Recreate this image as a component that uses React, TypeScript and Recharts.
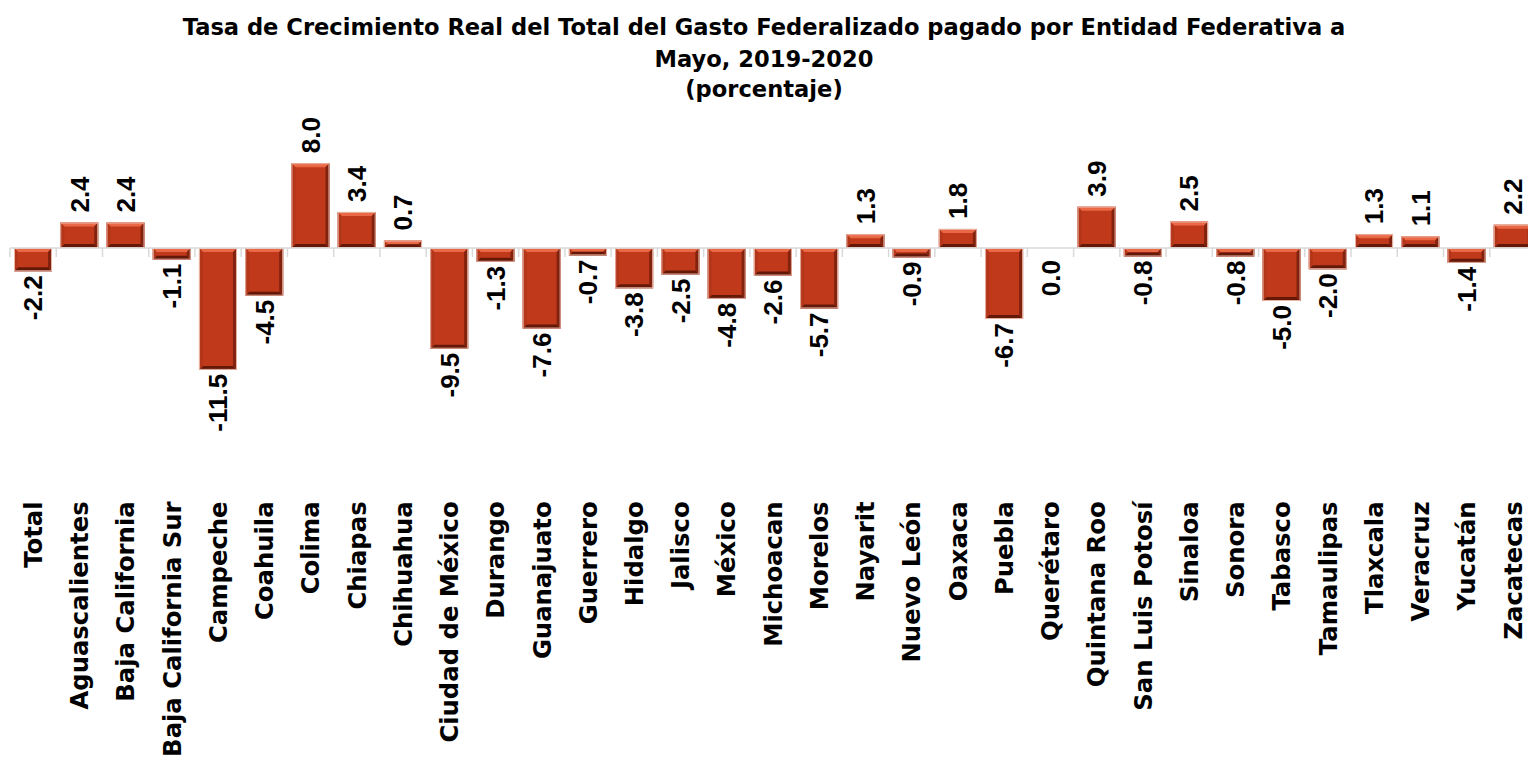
import React from 'react';
import { BarChart, Bar, XAxis, YAxis, ReferenceLine, LabelList } from 'recharts';

const categories = [
  'Total', 'Aguascalientes', 'Baja California', 'Baja California Sur', 'Campeche', 'Coahuila',
  'Colima', 'Chiapas', 'Chihuahua', 'Ciudad de México', 'Durango', 'Guanajuato', 'Guerrero',
  'Hidalgo', 'Jalisco', 'México', 'Michoacan', 'Morelos', 'Nayarit', 'Nuevo León', 'Oaxaca',
  'Puebla', 'Querétaro', 'Quintana Roo', 'San Luis Potosí', 'Sinaloa', 'Sonora', 'Tabasco',
  'Tamaulipas', 'Tlaxcala', 'Veracruz', 'Yucatán', 'Zacatecas',
];

const values = [
  -2.2, 2.4, 2.4, -1.1, -11.5, -4.5, 8.0, 3.4, 0.7, -9.5, -1.3, -7.6, -0.7, -3.8, -2.5, -4.8,
  -2.6, -5.7, 1.3, -0.9, 1.8, -6.7, 0.0, 3.9, -0.8, 2.5, -0.8, -5.0, -2.0, 1.3, 1.1, -1.4, 2.2,
];

const titleLines = [
  'Tasa de Crecimiento Real del Total del Gasto Federalizado pagado por Entidad Federativa a',
  'Mayo, 2019-2020',
  '(porcentaje)',
];

const yDomain = [-14, 10];

const data = categories.map((name, i) => ({ name, value: values[i] }));

const LABEL_FONT = "'DejaVu Sans', Lato, sans-serif";
const VALUE_FONT = "'Liberation Sans', Arial, sans-serif";

const BevelBar = (props: any) => {
  const { x, y, width, height } = props;
  if (x == null || y == null || width == null || height == null) return null;
  const top = Math.min(y, y + height);
  const h = Math.abs(height);
  if (h < 0.5) return null;
  const w = width;
  const b = Math.min(4, h / 2, w / 2);
  const x0 = x, x1 = x + w, y0 = top, y1 = top + h;
  return (
    <g>
      <rect x={x0} y={y0} width={w} height={h} fill="#c0391b" />
      <polygon points={`${x0},${y0} ${x1},${y0} ${x1 - b},${y0 + b} ${x0 + b},${y0 + b}`} fill="#ea6845" />
      <polygon points={`${x0},${y1} ${x1},${y1} ${x1 - b},${y1 - b} ${x0 + b},${y1 - b}`} fill="#641808" />
      <polygon points={`${x0},${y0} ${x0 + b},${y0 + b} ${x0 + b},${y1 - b} ${x0},${y1}`} fill="#b3351a" />
      <polygon points={`${x1},${y0} ${x1 - b},${y0 + b} ${x1 - b},${y1 - b} ${x1},${y1}`} fill="#80220e" />
      <rect x={x0 + 0.5} y={y0 + 0.5} width={w - 1} height={h - 1} fill="none" stroke="#e8b4a4" strokeWidth={1} />
    </g>
  );
};

const ValueLabel = (props: any) => {
  const vb = props.viewBox && props.viewBox.width !== undefined ? props.viewBox : props;
  const { x, y, width, height } = vb;
  const value = Number(props.value);
  if (x == null || y == null) return null;
  const top = Math.min(y, y + (height || 0));
  const bottom = Math.max(y, y + (height || 0));
  const cx = x + width / 2;
  const pos = value > 0;
  const ty = pos ? top - 10 : bottom + (value === 0 ? 12 : 4);
  return (
    <text
      x={cx}
      y={ty}
      transform={`rotate(-90 ${cx} ${ty})`}
      textAnchor={pos ? 'start' : 'end'}
      dy="0.36em"
      fontFamily={VALUE_FONT}
      fontWeight="bold"
      fontSize={26}
      fill="#000"
    >
      {value.toFixed(1)}
    </text>
  );
};

const CategoryTick = (props: any) => {
  const { x, y, payload } = props;
  const ty = y + 105;
  return (
    <text
      x={x}
      y={ty}
      transform={`rotate(-90 ${x} ${ty})`}
      textAnchor="end"
      dy="0.36em"
      fontFamily={LABEL_FONT}
      fontWeight="bold"
      fontSize={24.3}
      fill="#000"
    >
      {payload.value}
    </text>
  );
};

const ZeroLine = (props: any) => {
  const { x1, x2, y1 } = props;
  if (x1 == null) return null;
  const n = categories.length;
  const step = (x2 - x1) / n;
  return (
    <g>
      <line x1={x1} x2={x2} y1={y1} y2={y1} stroke="#d9d9d9" strokeWidth={1.5} />
      {Array.from({ length: n + 1 }, (_, i) => (
        <line key={i} x1={x1 + i * step} x2={x1 + i * step} y1={y1} y2={y1 + 9} stroke="#d9d9d9" strokeWidth={1.5} />
      ))}
    </g>
  );
};

const titleTops = [13, 45, 75];

export default function App() {
  return (
    <div style={{ position: 'absolute', left: 0, top: 0, width: 1528, height: 761, overflow: 'hidden', background: '#fff' }}>
      <div style={{ position: 'absolute', left: 0, top: 0, width: 1528 }}>
        {titleLines.map((t, i) => (
          <div
            key={i}
            style={{
              position: 'absolute',
              left: 0,
              width: 1528,
              top: titleTops[i],
              textAlign: 'center',
              fontFamily: LABEL_FONT,
              fontWeight: 'bold',
              fontSize: 22.6,
              lineHeight: '28px',
              color: '#000',
              whiteSpace: 'nowrap',
            }}
          >
            {t}
          </div>
        ))}
      </div>
      <div style={{ position: 'absolute', left: 0, top: 0 }}>
        <BarChart
          width={1540}
          height={761}
          data={data}
          margin={{ top: 142, right: 4, bottom: 0, left: 10 }}
          barSize={38}
        >
          <XAxis
            dataKey="name"
            interval={0}
            axisLine={false}
            tickLine={false}
            tickSize={0}
            tickMargin={0}
            height={364.6}
            tick={<CategoryTick />}
          />
          <YAxis hide domain={yDomain} type="number" />
          <ReferenceLine y={0} shape={<ZeroLine />} />
          <Bar dataKey="value" isAnimationActive={false} shape={<BevelBar />}>
            <LabelList dataKey="value" content={<ValueLabel />} />
          </Bar>
        </BarChart>
      </div>
    </div>
  );
}
